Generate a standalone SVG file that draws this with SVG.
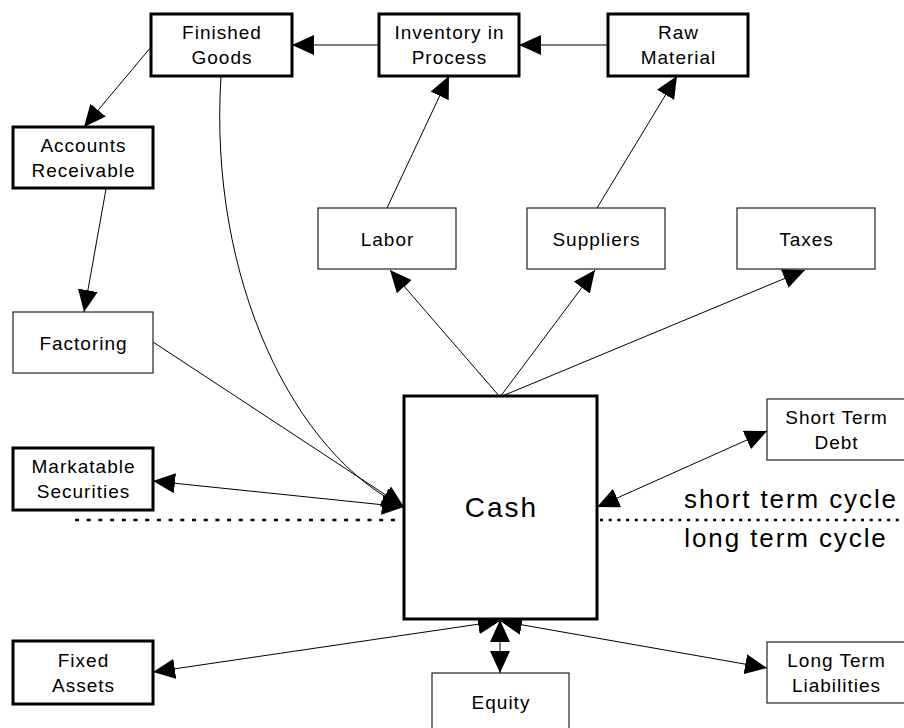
<svg xmlns="http://www.w3.org/2000/svg" width="904" height="728" viewBox="0 0 904 728">
<defs>
<marker id="ah" markerUnits="userSpaceOnUse" markerWidth="22" markerHeight="20" refX="22" refY="10" orient="auto-start-reverse">
<path d="M0,0 L22,10 L0,20 z" fill="#000"/>
</marker>
<style>
.thick{fill:#fff;stroke:#000;stroke-width:3}
.thin{fill:#fff;stroke:#222;stroke-width:1.2}
.lbl{font-family:"Liberation Sans",Arial,sans-serif;font-size:19px;letter-spacing:1px;text-anchor:middle;fill:#000}
.c{fill:none;stroke:#000;stroke-width:1}
.e{marker-end:url(#ah)}
.b{marker-start:url(#ah);marker-end:url(#ah)}
.big{font-family:"Liberation Sans",Arial,sans-serif;font-size:26px;letter-spacing:1.9px;text-anchor:middle;fill:#000}
</style>
</defs>
<rect width="904" height="728" fill="#fff"/>
<g id="connectors">
<path class="c e" d="M379,45 L292,45"/>
<path class="c e" d="M608,45 L519,45"/>
<path class="c e" d="M151,47 L84,127"/>
<path class="c e" d="M106,189 L84,312"/>
<path class="c e" d="M221,76 C208,280 295,455 404,507"/>
<path class="c e" d="M153,342 L404,507"/>
<path class="c b" d="M153,481 L404,507"/>
<path class="c e" d="M500,397 L390,270"/>
<path class="c e" d="M500,397 L595,270"/>
<path class="c e" d="M500,397 L805,270"/>
<path class="c e" d="M387,208 L449,76"/>
<path class="c e" d="M597,208 L677,76"/>
<path class="c b" d="M597,507 L767,431"/>
<path class="c b" d="M500,620 L500,673"/>
<path class="c b" d="M500,621 L153,672"/>
<path class="c b" d="M500,621 L767,668"/>
<path d="M75,520 L400,520" stroke="#000" stroke-width="2.5" stroke-dasharray="4 7.7" fill="none"/>
<path d="M600,520 L904,520" stroke="#000" stroke-width="2.5" stroke-dasharray="3 5.7" fill="none"/>
</g>
<g id="finished-goods"><rect class="thick" x="151" y="14" width="141" height="62"/><text class="lbl" x="222" y="39">Finished</text><text class="lbl" x="222" y="64">Goods</text></g>
<g id="inventory-in-process"><rect class="thick" x="379" y="14" width="140" height="62"/><text class="lbl" x="449.5" y="39">Inventory in</text><text class="lbl" x="449.5" y="64">Process</text></g>
<g id="raw-material"><rect class="thick" x="608" y="14" width="140" height="62"/><text class="lbl" x="678.5" y="39">Raw</text><text class="lbl" x="678.5" y="64">Material</text></g>
<g id="accounts-receivable"><rect class="thick" x="13" y="127" width="140" height="61"/><text class="lbl" x="83.5" y="151.5">Accounts</text><text class="lbl" x="83.5" y="176.5">Receivable</text></g>
<g id="factoring"><rect class="thin" x="13" y="312" width="140" height="61"/><text class="lbl" x="83.5" y="349.5">Factoring</text></g>
<g id="markatable-securities"><rect class="thick" x="13" y="448" width="140" height="62"/><text class="lbl" x="83.5" y="472.5">Markatable</text><text class="lbl" x="83.5" y="497.5">Securities</text></g>
<g id="labor"><rect class="thin" x="318" y="208" width="138" height="61"/><text class="lbl" x="387.5" y="246">Labor</text></g>
<g id="suppliers"><rect class="thin" x="527" y="208" width="138" height="61"/><text class="lbl" x="596.5" y="246">Suppliers</text></g>
<g id="taxes"><rect class="thin" x="737" y="208" width="138" height="61"/><text class="lbl" x="806.5" y="246">Taxes</text></g>
<g id="cash"><rect class="thick" x="404" y="396" width="193" height="223"/><text x="501.5" y="517" font-family="Liberation Sans, Arial, sans-serif" font-size="28" letter-spacing="2" text-anchor="middle">Cash</text></g>
<g id="short-term-debt"><rect class="thin" x="767" y="399" width="138" height="61"/><text class="lbl" x="836.5" y="423.5">Short Term</text><text class="lbl" x="836.5" y="448.5">Debt</text></g>
<g id="fixed-assets"><rect class="thick" x="13" y="641" width="140" height="63"/><text class="lbl" x="83.5" y="666.5">Fixed</text><text class="lbl" x="83.5" y="691.5">Assets</text></g>
<g id="equity"><rect class="thin" x="432" y="673" width="137" height="61"/><text class="lbl" x="501" y="709">Equity</text></g>
<g id="long-term-liabilities"><rect class="thin" x="767" y="642" width="138" height="61"/><text class="lbl" x="836.5" y="666.5">Long Term</text><text class="lbl" x="836.5" y="691.5">Liabilities</text></g>
<g id="cycle-labels"><text class="big" x="791" y="508">short term cycle</text><text class="big" x="786" y="547">long term cycle</text></g>
</svg>
